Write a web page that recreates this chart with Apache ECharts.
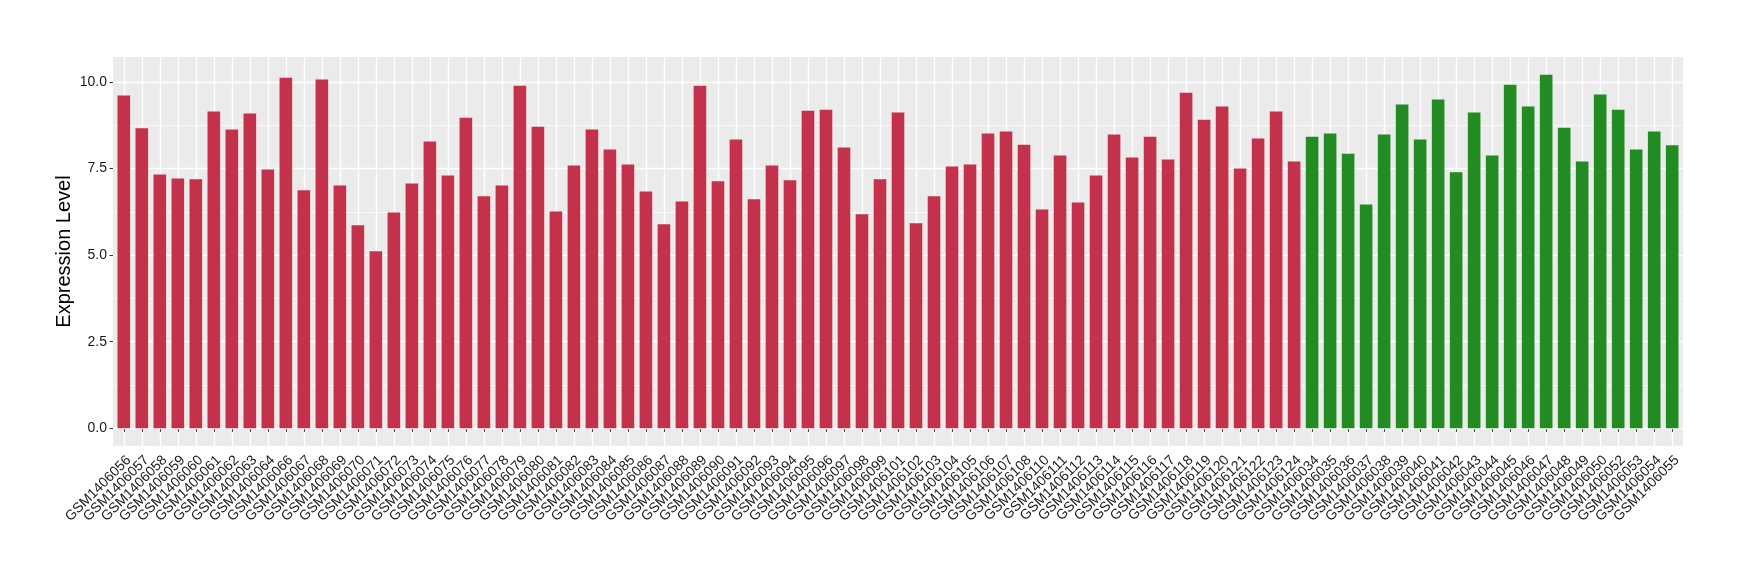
<!DOCTYPE html>
<html>
<head>
<meta charset="utf-8">
<script src="https://cdn.jsdelivr.net/npm/echarts@6/dist/echarts.min.js"></script>
<style>
html, body { margin: 0; padding: 0; background: #ffffff; }
#chart { width: 1740px; height: 580px; }
</style>
</head>
<body>
<div id="chart"></div>
<script>
// ---- data ----
const redSamples = [
  'GSM1406056','GSM1406057','GSM1406058','GSM1406059','GSM1406060','GSM1406061','GSM1406062','GSM1406063','GSM1406064',
  'GSM1406066','GSM1406067','GSM1406068','GSM1406069','GSM1406070','GSM1406071','GSM1406072','GSM1406073','GSM1406074',
  'GSM1406075','GSM1406076','GSM1406077','GSM1406078','GSM1406079','GSM1406080','GSM1406081','GSM1406082','GSM1406083',
  'GSM1406084','GSM1406085','GSM1406086','GSM1406087','GSM1406088','GSM1406089','GSM1406090','GSM1406091','GSM1406092',
  'GSM1406093','GSM1406094','GSM1406095','GSM1406096','GSM1406097','GSM1406098','GSM1406099','GSM1406101','GSM1406102',
  'GSM1406103','GSM1406104','GSM1406105','GSM1406106','GSM1406107','GSM1406108','GSM1406110','GSM1406111','GSM1406112',
  'GSM1406113','GSM1406114','GSM1406115','GSM1406116','GSM1406117','GSM1406118','GSM1406119','GSM1406120','GSM1406121',
  'GSM1406122','GSM1406123','GSM1406124'
];
const redValues = [
  9.61, 8.66, 7.33, 7.21, 7.19, 9.15, 8.63, 9.09, 7.47,
  10.12, 6.87, 10.07, 7.01, 5.86, 5.11, 6.23, 7.07, 8.28,
  7.30, 8.97, 6.70, 7.01, 9.89, 8.71, 6.26, 7.59, 8.63,
  8.05, 7.62, 6.84, 5.89, 6.55, 9.89, 7.13, 8.34, 6.61,
  7.59, 7.16, 9.17, 9.20, 8.11, 6.18, 7.19, 9.12, 5.92,
  6.70, 7.56, 7.62, 8.51, 8.57, 8.19, 6.32, 7.88, 6.52,
  7.30, 8.48, 7.82, 8.42, 7.76, 9.69, 8.91, 9.29, 7.50,
  8.37, 9.15, 7.70
];
const greenSamples = [
  'GSM1406034','GSM1406035','GSM1406036','GSM1406037','GSM1406038','GSM1406039','GSM1406040','GSM1406041',
  'GSM1406042','GSM1406043','GSM1406044','GSM1406045','GSM1406046','GSM1406047','GSM1406048','GSM1406049',
  'GSM1406050','GSM1406052','GSM1406053','GSM1406054','GSM1406055'
];
const greenValues = [
  8.42, 8.51, 7.93, 6.46, 8.48, 9.35, 8.34, 9.49,
  7.39, 9.12, 7.88, 9.92, 9.29, 10.21, 8.68, 7.70,
  9.64, 9.20, 8.05, 8.57, 8.17
];
const yTicks = [0, 2.5, 5, 7.5, 10];
const yTitle = 'Expression Level';

// ---- styling ----
const redColor = '#C3314A';
const greenColor = '#228B22';
const panelBg = '#EBEBEB';
const fontFamily = '"Liberation Sans", Arial, Helvetica, sans-serif';

const categories = redSamples.concat(greenSamples);
const barData = redValues.map(v => ({ value: v, itemStyle: { color: redColor } }))
  .concat(greenValues.map(v => ({ value: v, itemStyle: { color: greenColor } })));

const allValues = redValues.concat(greenValues);
const dataMax = Math.max.apply(null, allValues);
const yMax = dataMax * 1.05;
const yMin = -dataMax * 0.05;
const minorTicks = yTicks.slice(1).map((t, i) => (t + yTicks[i]) / 2);

const panel = { left: 113, top: 57, width: 1570, height: 389 };
const unitPx = panel.width / (categories.length - 1 + 1.2);
const inset = unitPx * 0.1;

const gridLines = yTicks.map(v => ({ yAxis: v, lineStyle: { width: 1.4 } }))
  .concat(minorTicks.map(v => ({ yAxis: v, lineStyle: { width: 0.7 } })));

const chart = echarts.init(document.getElementById('chart'), null, { renderer: 'canvas' });
chart.setOption({
  animation: false,
  textStyle: { fontFamily: fontFamily },
  grid: [
    { left: panel.left, top: panel.top, width: panel.width, height: panel.height,
      show: true, backgroundColor: panelBg, borderWidth: 0, containLabel: false },
    { left: panel.left + inset, top: panel.top, width: panel.width - 2 * inset, height: panel.height,
      containLabel: false }
  ],
  xAxis: [
    { gridIndex: 0, type: 'value', min: 0, max: 1, show: false },
    { gridIndex: 1, type: 'category', data: categories, boundaryGap: true,
      axisLine: { show: false },
      axisTick: { show: true, alignWithLabel: true, interval: 0, length: 3.5,
                  lineStyle: { color: '#333333', width: 1 } },
      splitLine: { show: true, alignWithLabel: true, interval: 0,
                   lineStyle: { color: '#FFFFFF', width: 1.4 } },
      axisLabel: { interval: 0, rotate: 45, fontSize: 14, color: '#1A1A1A', margin: 7,
                   align: 'right', verticalAlign: 'top', fontFamily: fontFamily }
    }
  ],
  yAxis: [
    { gridIndex: 0, type: 'value', min: yMin, max: yMax,
      axisLine: { show: false },
      splitLine: { show: false },
      axisTick: { show: true, customValues: yTicks, length: 3.5,
                  lineStyle: { color: '#333333', width: 1 } },
      axisLabel: { customValues: yTicks, formatter: v => Number(v).toFixed(1),
                   fontSize: 14, color: '#1A1A1A', margin: 6, fontFamily: fontFamily },
      name: yTitle, nameLocation: 'middle', nameGap: 39, nameMoveOverlap: false,
      nameTextStyle: { fontSize: 20, color: '#000000', fontFamily: fontFamily }
    },
    { gridIndex: 1, type: 'value', min: yMin, max: yMax, show: false,
      splitLine: { show: false } }
  ],
  series: [
    { type: 'line', xAxisIndex: 0, yAxisIndex: 0, data: [], z: 1, silent: true,
      markLine: { silent: true, symbol: 'none', z: 1, animation: false,
                  label: { show: false },
                  lineStyle: { color: '#FFFFFF', type: 'solid', width: 1.4 },
                  emphasis: { disabled: true },
                  data: gridLines } },
    { type: 'bar', xAxisIndex: 1, yAxisIndex: 1, data: barData, barWidth: '70%', z: 2 }
  ]
});
</script>
</body>
</html>
